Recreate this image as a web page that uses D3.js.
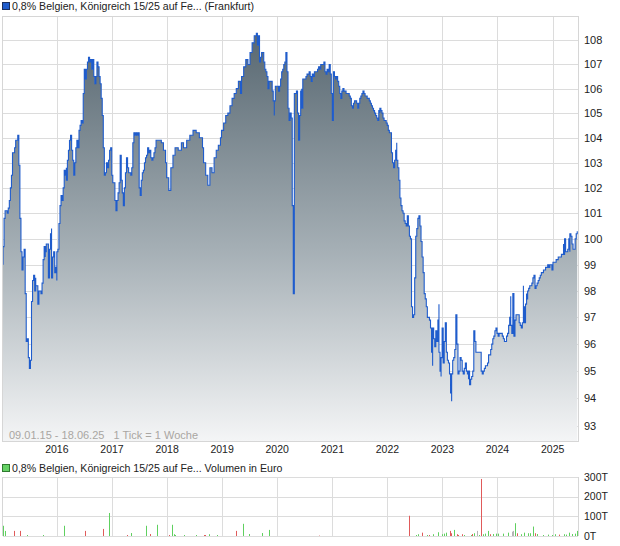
<!DOCTYPE html>
<html>
<head>
<meta charset="utf-8">
<script src="https://cdn.jsdelivr.net/npm/d3@7"></script>
<style>
  body { margin: 0; background: #fff; }
  svg { display: block; font-family: "Liberation Sans", Arial, sans-serif; }
</style>
</head>
<body>
<svg id="chart" width="620" height="546"></svg>
<script>
// Weekly closes, [week index since 09.01.2015, price]
const prices2015to2017 = [
  [0,99.0],[0,99.7],[1,100.8],[2,101.1],[3,101.1],[4,101.0],[5,101.2],[6,101.5],[7,102.0],[8,102.5],[9,103.4],[10,103.4],
  [11,103.6],[12,103.9],[14,104.1],[15,104.0],[15,102.9],[16,100.8],[17,99.5],[18,98.8],[19,99.3],[20,99.6],[21,97.9],
  [22,96.1],[23,96.2],[24,95.5],[25,95.1],[26,95.4],[27,96.3],[27,97.6],[28,98.4],[29,98.6],[30,98.0],[31,98.5],[31,98.2],
  [33,97.5],[34,97.8],[34,98.0],[36,97.9],[37,98.3],[38,99.2],[39,99.7],[40,99.3],[40,99.5],[41,99.8],[42,99.8],[43,98.5],
  [44,99.6],[45,100.2],[46,100.4],[46,98.5],[47,99.3],[48,99.5],[49,98.7],[50,98.9],[51,98.4],[51,99.5],[52,99.6],[53,100.0],
  [53,100.6],[54,101.3],[55,101.7],[56,101.5],[57,102.0],[58,102.7],[59,102.5],[60,102.8],[60,102.3],[61,103.1],[62,103.5],
  [63,103.9],[64,104.1],[65,103.5],[66,103.1],[67,102.9],[67,102.5],[68,103.0],[69,103.6],[70,103.9],[71,103.6],[72,104.3],
  [73,104.5],[74,104.7],[75,104.6],[76,105.0],[76,105.8],[77,106.8],[78,106.4],[79,106.8],[80,107.1],[81,107.3],[82,107.1],
  [83,107.2],[84,106.8],[85,107.2],[86,106.5],[87,106.2],[88,106.5],[89,107.1],[90,106.9],[91,106.5],[92,106.2],[93,105.9],
  [93,105.6],[94,104.9],[95,103.6],[96,102.5],[97,102.6],[98,103.0],[99,102.8],[100,103.1],[101,103.5],[102,103.6],[103,102.5],
  [104,102.2],[105,102.2],[106,101.5],[107,101.1],[108,101.5],[109,101.8],[110,102.2],[111,102.8],[111,103.3],[112,102.3],
  [113,101.8],[114,101.3],[115,102.0],[116,102.6],[117,103.2],[118,102.8],[119,102.6],[120,102.6],[121,102.5],[122,102.8],
  [123,103.2],[123,103.8],[124,104.2],[125,104.1],[126,104.2],[127,104.1],[128,104.2],[129,102.0],[130,101.7],[131,102.3],
  [132,102.6],[133,102.7],[134,103.0],[135,103.2],[136,103.3],[137,103.6],[138,103.4],[139,103.5],[140,103.2],[141,103.1],
  [142,103.2],[143,103.4],[144,103.6],[145,103.9],[146,103.9],[147,103.9],[148,103.9]
];

const prices2018to2019 = [
  [150,103.8],[152,103.5],[154,103.0],[155,102.4],[157,101.9],[159,102.8],[161,103.3],[163,103.6],[166,103.5],[169,103.8],
  [171,103.6],[174,103.9],[177,104.1],[180,104.3],[183,104.2],[186,104.0],[189,103.6],[190,103.0],[192,102.5],[194,102.1],
  [196,102.8],[198,102.6],[200,103.2],[202,103.5],[204,103.7],[206,104.0],[207,104.3],[209,104.6],[211,104.9],[213,105.0],
  [215,105.3],[217,105.6],[219,105.8],[221,106.0],[223,106.3],[225,105.8],[226,106.5],[228,106.9],[230,107.2],[232,107.0],
  [234,107.5],[236,107.9],[238,108.2],[240,108.3],[241,107.8],[242,108.2]
];

const prices2019to2022 = [
  [243,107.1],[244,107.3],[245,107.5],[247,107.5],[247,107.1],[248,106.8],[249,106.7],[250,106.5],[251,106.0],[252,106.3],
  [253,106.3],[254,106.3],[255,105.9],[256,105.5],[257,104.9],[257,105.5],[258,106.1],[259,106.1],[260,106.1],[261,105.9],
  [262,106.1],[263,106.4],[264,106.7],[265,106.8],[266,107.0],[267,107.1],[268,107.3],[268,107.5],[269,106.7],[270,105.2],
  [271,104.7],[272,105.0],[273,104.8],[274,104.7],[274,101.3],[275,97.9],[276,101.5],[276,105.8],[277,105.8],[278,105.9],
  [279,105.0],[280,103.9],[281,104.7],[281,104.9],[282,105.9],[283,106.0],[283,105.2],[284,106.4],[285,106.4],[286,106.4],
  [287,106.5],[288,106.6],[289,106.6],[290,106.7],[291,106.6],[291,106.5],[292,106.3],[293,106.6],[294,106.5],[295,106.7],
  [296,106.7],[297,106.7],[298,106.8],[299,106.9],[300,106.8],[301,107.0],[302,107.0],[303,107.0],[304,107.1],[305,106.7],
  [306,106.6],[307,106.8],[308,106.7],[309,106.9],[309,107.0],[310,106.6],[311,105.8],[312,104.7],[313,106.7],[314,106.5],
  [315,106.5],[315,106.4],[316,106.5],[317,106.3],[318,106.1],[319,105.8],[320,105.6],[321,105.9],[322,106.0],[323,105.9],
  [324,105.9],[325,105.8],[326,105.8],[327,105.8],[328,105.7],[329,105.6],[330,105.3],[331,105.2],[332,105.4],[333,105.5],
  [334,105.5],[335,105.4],[336,105.2],[337,105.4],[338,105.6],[339,105.7],[340,105.8],[341,105.9],[342,105.8],[343,105.7],
  [344,105.7],[345,105.6],[346,105.6],[347,105.5],[348,105.4],[349,105.3],[350,105.2],[351,105.1],[352,105.0],[353,104.9],
  [354,104.8],[355,104.7],[356,105.1],[357,105.0],[357,105.2],[358,105.1],[359,105.0],[360,104.8],[361,104.7],[362,104.7],
  [363,104.6],[364,104.5],[365,104.3],[366,104.2],[367,104.2],[368,103.4],[369,103.0],[370,102.8],[371,103.1],[372,103.5],
  [373,103.8],[373,103.1],[374,102.8],[375,102.3]
];

const prices2022to2025 = [
  [376,101.6],[377,101.3],[378,101.1],[379,101.0],[380,100.7],[381,100.6],[382,100.5],[383,100.9],[384,100.5],[385,100.1],
  [386,100.0],[387,98.8],[387,97.4],[388,97.0],[389,97.1],[390,98.5],[391,100.1],[392,100.4],[393,100.8],[394,100.9],
  [395,100.5],[396,99.9],[397,99.3],[398,98.7],[399,98.2],[399,97.9],[400,97.7],[401,97.4],[402,97.0],[403,97.0],[404,96.9],
  [405,96.6],[406,95.7],[407,95.2],[407,96.6],[408,96.2],[409,95.9],[410,96.5],[411,96.1],[412,96.9],[413,97.5],[413,95.7],
  [414,95.0],[415,94.8],[415,95.5],[416,96.6],[417,95.7],[417,95.3],[418,96.1],[419,96.8],[420,95.7],[421,95.4],[422,95.3],
  [423,95.3],[423,94.9],[424,94.2],[425,93.9],[425,94.9],[426,95.4],[427,95.5],[428,95.8],[429,96.1],[429,97.1],[430,96.0],
  [431,95.5],[431,94.9],[432,95.0],[433,95.5],[434,95.4],[435,95.0],[436,94.9],[437,95.1],[438,95.3],[439,95.0],[440,94.9],
  [441,94.7],[441,95.0],[442,94.5],[443,94.7],[444,94.8],[445,95.0],[446,96.5],[447,96.1],[448,95.7],[450,95.7],[452,95.7],
  [453,95.0],[454,94.9],[455,95.0],[456,95.1],[457,95.2],[458,95.2],[459,95.3],[460,95.5],[460,95.6],[461,95.6],[462,95.8],
  [463,96.0],[464,96.2],[465,96.3],[466,96.5],[467,96.6],[468,96.4],[469,96.3],[470,96.4],[471,96.4],[472,96.4],[473,96.3],
  [474,96.2],[475,96.1],[476,96.1],[477,96.2],[477,96.3],[478,96.4],[479,96.7],[480,97.0],[481,97.8],[481,96.7],[482,96.4],
  [483,97.9],[484,96.3],[485,96.9],[486,97.1],[487,97.1],[488,97.1],[489,97.1],[489,96.8],[490,96.7],[491,96.6],[492,96.8],
  [493,98.2],[493,97.4],[494,96.8],[495,97.5],[496,97.9],[496,97.7],[497,98.0],[498,98.1],[499,98.2],[500,98.2],[501,98.3],
  [502,98.5],[503,98.6],[504,98.3],[504,98.1],[505,98.2],[506,98.3],[507,98.4],[508,98.5],[509,98.6],[510,98.7],[511,98.7],
  [512,98.8],[513,98.8],[514,98.9],[515,98.9],[516,99.0],[517,98.9],[518,99.0],[519,99.0],[520,98.8],[521,99.1],[522,99.1],
  [523,99.1],[524,99.2],[525,99.2],[526,99.3],[527,99.3],[528,99.3],[529,99.4],[530,99.4],[531,99.8],[531,99.4],[532,100.0],
  [533,99.5],[534,99.5],[535,99.6],[536,100.0],[537,99.5],[537,100.2],[538,100.1],[539,99.8],[540,99.6],[541,99.6],
  [542,100.0],[543,100.2],[544,100.3]
];

// Volume in thousand euro: week index, amount, direction (1 up, -1 down, 0 flat)
const volumeWeeks = [0,2,10,16,23,38,58,78,95,100,117,121,135,139,146,157,160,162,163,171,183,190,191,195,203,221,227,233,245,252,299,
  385,391,393,397,402,404,407,412,416,418,420,423,424,427,430,431,435,437,443,444,446,449,451,453,455,457,459,461,464,467,469,
  474,478,482,483,485,487,491,494,497,499,502,504,506,512,516,520,523,527,531,533,536,539,542,544];
const volumeAmounts = [52,26,26,26,5,5,52,26,36,117,5,15,52,10,57,5,57,9,5,5,5,5,5,9,5,26,62,10,15,31,2,
  103,5,9,17,5,5,9,19,9,12,17,26,14,31,9,5,9,5,5,10,14,26,5,290,9,12,26,9,10,12,12,
  12,17,22,26,65,14,9,17,14,14,48,14,10,5,7,5,9,7,9,7,17,10,12,26];
const volumeDirections = [1,1,-1,-1,1,1,1,-1,-1,1,-1,1,1,-1,1,-1,1,1,1,1,1,-1,-1,1,1,-1,1,1,1,1,-1,
  -1,1,1,-1,1,-1,1,1,1,1,1,-1,-1,1,-1,-1,-1,1,1,-1,1,0,1,-1,1,1,1,-1,1,1,1,
  1,1,0,0,1,-1,1,1,1,1,1,-1,1,1,1,1,1,-1,1,1,1,1,1,1];

const priceTicks = d3.range(93, 109);
const volumeTicks = [0, 100, 200, 300];
const yearTicks = d3.range(2016, 2026).map((yr) => new Date(yr, 0, 1));

const titleMain = '0,8% Belgien, Königreich 15/25 auf Fe... (Frankfurt)';
const titleVolume = '0,8% Belgien, Königreich 15/25 auf Fe... Volumen in Euro';
const rangeNote = '09.01.15 - 18.06.25   1 Tick = 1 Woche';

const startDate = new Date(2015, 0, 9);
const endDate = new Date(2025, 5, 18);
const weekDate = (w) => d3.timeDay.offset(startDate, w * 7);

const prices = [].concat(prices2015to2017, prices2018to2019, prices2019to2022, prices2022to2025)
  .map(([w, v]) => ({ date: weekDate(w), value: v }));
const volumes = volumeWeeks.map((w, i) => ({
  date: weekDate(w), value: volumeAmounts[i], dir: volumeDirections[i]
}));

// Layout
const plotLeft = 3, plotRight = 578;
const plotTop = 16, plotBottom = 441;
const volTop = 477, volBottom = 536;
const gridColor = '#dcdcdc';

const svg = d3.select('#chart');

const x = d3.scaleTime().domain([startDate, endDate]).range([plotLeft, plotRight]);
const y = d3.scaleLog().domain([92.46, 109.03]).range([plotBottom, plotTop]);
const yVol = d3.scaleLinear().domain([0, 300]).range([volBottom, volTop]);

// Gradient for the area
const defs = svg.append('defs');
const grad = defs.append('linearGradient')
  .attr('id', 'areaFill')
  .attr('gradientUnits', 'userSpaceOnUse')
  .attr('x1', 0).attr('y1', plotTop).attr('x2', 0).attr('y2', plotBottom);
grad.append('stop').attr('offset', 0).attr('stop-color', '#52626c');
grad.append('stop').attr('offset', 0.55).attr('stop-color', '#a5afb5');
grad.append('stop').attr('offset', 1).attr('stop-color', '#f4f5f6');

defs.append('clipPath').attr('id', 'plotClip')
  .append('rect').attr('x', plotLeft).attr('y', plotTop)
  .attr('width', plotRight - plotLeft).attr('height', plotBottom - plotTop);

// Legends
svg.append('rect').attr('x', 2.5).attr('y', 2.5).attr('width', 7).attr('height', 7)
  .attr('fill', '#1f5ccc').attr('stroke', '#1b2f5e');
svg.append('text').attr('x', 12).attr('y', 10).attr('font-size', 10.6).attr('fill', '#222').text(titleMain);

svg.append('rect').attr('x', 2.5).attr('y', 464.5).attr('width', 7).attr('height', 7)
  .attr('fill', '#66d266').attr('stroke', '#2f7a2f');
svg.append('text').attr('x', 12).attr('y', 472).attr('font-size', 10.6).attr('fill', '#222').text(titleVolume);

// Main grid
const main = svg.append('g');
main.selectAll('line.hgrid').data(priceTicks).join('line')
  .attr('x1', plotLeft).attr('x2', plotRight)
  .attr('y1', (d) => Math.round(y(d)) + 0.5).attr('y2', (d) => Math.round(y(d)) + 0.5)
  .attr('stroke', gridColor);
main.selectAll('line.vgrid').data(yearTicks).join('line')
  .attr('x1', (d) => Math.round(x(d)) + 0.5).attr('x2', (d) => Math.round(x(d)) + 0.5)
  .attr('y1', plotTop).attr('y2', plotBottom)
  .attr('stroke', gridColor);

// Area + line
const area = d3.area().x((d) => x(d.date)).y0(plotBottom).y1((d) => y(d.value)).curve(d3.curveStepAfter);
const line = d3.line().x((d) => x(d.date)).y((d) => y(d.value)).curve(d3.curveStepAfter);

const plot = svg.append('g').attr('clip-path', 'url(#plotClip)');
plot.append('path').datum(prices).attr('d', area).attr('fill', 'url(#areaFill)');
plot.append('path').datum(prices).attr('d', line)
  .attr('fill', 'none').attr('stroke', '#1f5ccc').attr('stroke-width', 1.1);

svg.append('rect').attr('x', plotLeft - 0.5).attr('y', plotTop + 0.5)
  .attr('width', plotRight - plotLeft + 1).attr('height', plotBottom - plotTop)
  .attr('fill', 'none').attr('stroke', '#d6d6d6');

svg.append('text').attr('x', 9).attr('y', 439).attr('font-size', 11).attr('fill', '#a9a6a2')
  .style('white-space', 'pre').text(rangeNote);

// Price axis labels
svg.append('g').selectAll('text').data(priceTicks).join('text')
  .attr('x', 584).attr('y', (d) => y(d)).attr('dy', '0.35em')
  .attr('font-size', 11).attr('fill', '#222').text((d) => d);

// Year labels
svg.append('g').selectAll('text').data(yearTicks).join('text')
  .attr('x', (d) => x(d)).attr('y', 453).attr('text-anchor', 'middle')
  .attr('font-size', 10.5).attr('fill', '#222').text(d3.timeFormat('%Y'));

// Volume panel
const vol = svg.append('g');
vol.selectAll('line.hgrid').data(volumeTicks).join('line')
  .attr('x1', plotLeft).attr('x2', plotRight)
  .attr('y1', (d) => Math.round(yVol(d)) + 0.5).attr('y2', (d) => Math.round(yVol(d)) + 0.5)
  .attr('stroke', gridColor);
vol.selectAll('line.vgrid').data(yearTicks).join('line')
  .attr('x1', (d) => Math.round(x(d)) + 0.5).attr('x2', (d) => Math.round(x(d)) + 0.5)
  .attr('y1', volTop).attr('y2', volBottom)
  .attr('stroke', gridColor);
vol.append('line').attr('x1', plotLeft - 0.5).attr('x2', plotLeft - 0.5)
  .attr('y1', volTop).attr('y2', volBottom).attr('stroke', '#d6d6d6');
vol.append('line').attr('x1', plotRight + 0.5).attr('x2', plotRight + 0.5)
  .attr('y1', volTop).attr('y2', volBottom).attr('stroke', '#d6d6d6');

const volColor = (d) => d.dir > 0 ? '#5fd05f' : d.dir < 0 ? '#e05a5a' : '#b4b4b4';
vol.selectAll('rect.bar').data(volumes).join('rect')
  .attr('x', (d) => Math.round(x(d.date)))
  .attr('y', (d) => yVol(d.value))
  .attr('width', 1)
  .attr('height', (d) => volBottom - yVol(d.value))
  .attr('fill', volColor);

vol.selectAll('text').data(volumeTicks).join('text')
  .attr('x', 584).attr('y', (d) => yVol(d)).attr('dy', '0.35em')
  .attr('font-size', 10.5).attr('fill', '#222').text((d) => d + 'T');
</script>
</body>
</html>
